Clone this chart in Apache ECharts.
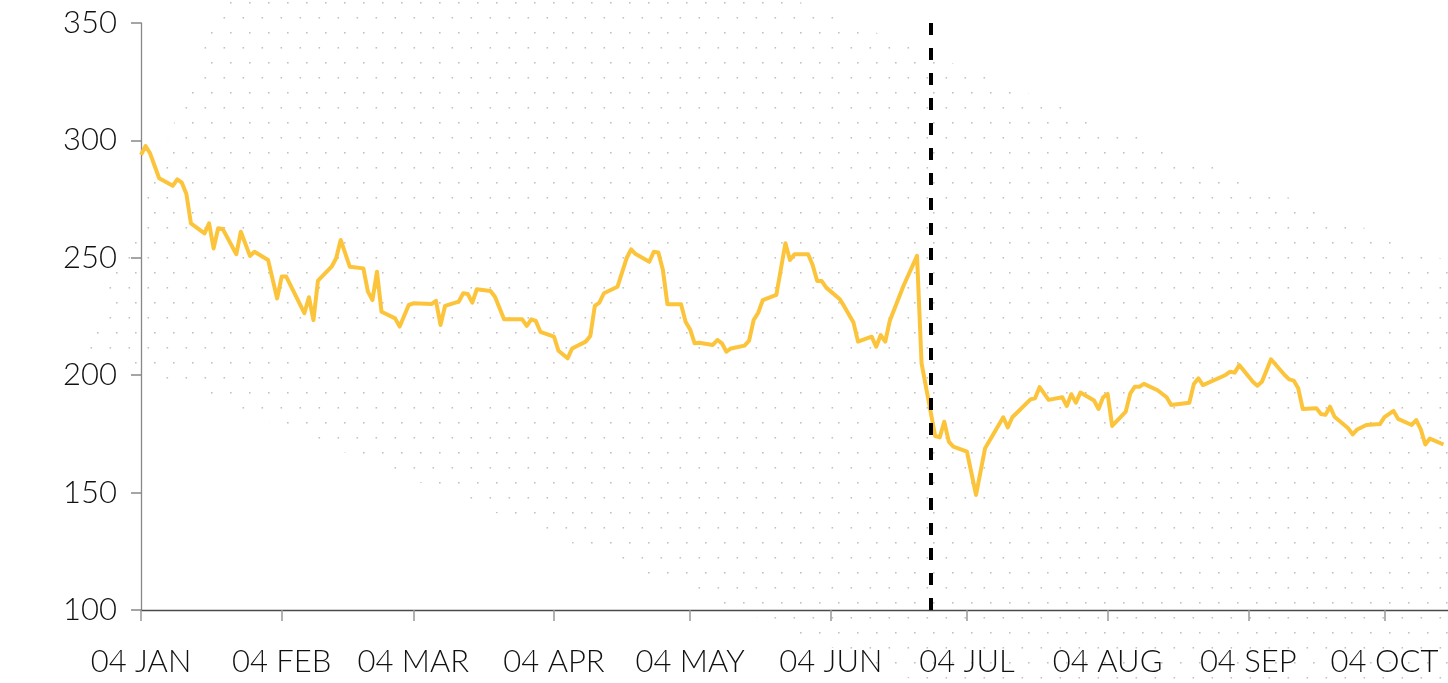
<!DOCTYPE html>
<html>
<head>
<meta charset="utf-8">
<script src="https://cdn.jsdelivr.net/npm/echarts@6.0.0/dist/echarts.min.js"></script>
<style>
html,body{margin:0;padding:0;background:#fff;}
#chart{width:1448px;height:683px;}
</style>
</head>
<body>
<div id="chart"></div>
<script>
// ---- data ----
const dates = [
 '2016-01-04','2016-01-05','2016-01-06','2016-01-08','2016-01-11','2016-01-12','2016-01-13','2016-01-14','2016-01-15',
 '2016-01-18','2016-01-19','2016-01-20','2016-01-21','2016-01-22','2016-01-25','2016-01-26','2016-01-28','2016-01-29',
 '2016-02-01','2016-02-03','2016-02-04','2016-02-05','2016-02-09','2016-02-10','2016-02-11','2016-02-12','2016-02-15',
 '2016-02-16','2016-02-17','2016-02-19','2016-02-22','2016-02-23','2016-02-24','2016-02-25','2016-02-26','2016-02-29',
 '2016-03-01','2016-03-03','2016-03-04','2016-03-08','2016-03-09','2016-03-10','2016-03-11','2016-03-14','2016-03-15',
 '2016-03-16','2016-03-17','2016-03-18','2016-03-21','2016-03-22','2016-03-24','2016-03-28','2016-03-29','2016-03-30','2016-03-31',
 '2016-04-01','2016-04-04','2016-04-05','2016-04-07','2016-04-08','2016-04-11','2016-04-12','2016-04-13','2016-04-14',
 '2016-04-15','2016-04-18','2016-04-20','2016-04-21','2016-04-22','2016-04-25','2016-04-26','2016-04-27','2016-04-28','2016-04-29',
 '2016-05-02','2016-05-03','2016-05-04','2016-05-05','2016-05-06','2016-05-09','2016-05-10','2016-05-11','2016-05-12',
 '2016-05-13','2016-05-16','2016-05-17','2016-05-18','2016-05-19','2016-05-20','2016-05-23','2016-05-25','2016-05-26',
 '2016-05-27','2016-05-30','2016-05-31',
 '2016-06-01','2016-06-02','2016-06-03','2016-06-06','2016-06-07','2016-06-09','2016-06-10','2016-06-13','2016-06-14',
 '2016-06-15','2016-06-16','2016-06-17','2016-06-20','2016-06-23','2016-06-24','2016-06-27','2016-06-28','2016-06-29','2016-06-30',
 '2016-07-01','2016-07-04','2016-07-06','2016-07-08','2016-07-12','2016-07-13','2016-07-14','2016-07-18','2016-07-19',
 '2016-07-20','2016-07-22','2016-07-25','2016-07-26','2016-07-27','2016-07-28','2016-07-29',
 '2016-08-01','2016-08-02','2016-08-03','2016-08-04','2016-08-05','2016-08-08','2016-08-09','2016-08-10','2016-08-11',
 '2016-08-12','2016-08-15','2016-08-17','2016-08-18','2016-08-22','2016-08-23','2016-08-24','2016-08-25','2016-08-30','2016-08-31',
 '2016-09-01','2016-09-02','2016-09-05','2016-09-06','2016-09-07','2016-09-09','2016-09-12','2016-09-13','2016-09-14',
 '2016-09-15','2016-09-16','2016-09-19','2016-09-20','2016-09-21','2016-09-22','2016-09-23','2016-09-26','2016-09-27',
 '2016-09-28','2016-09-30',
 '2016-10-03','2016-10-04','2016-10-06','2016-10-07','2016-10-10','2016-10-11','2016-10-12','2016-10-13','2016-10-14','2016-10-17'
];
const prices = [
 293.8,297.6,294.5,283.9,280.7,283.4,282.0,277.2,264.7,
 260.4,264.7,254.0,262.6,262.3,251.5,261.1,250.8,252.6,
 249.1,232.7,242.0,242.0,226.4,233.2,223.5,240.3,246.2,
 249.8,257.6,246.2,245.5,235.6,232.0,244.1,227.0,224.2,
 220.7,229.9,230.6,230.3,231.7,221.4,229.5,231.3,234.9,
 234.6,230.9,236.6,235.9,233.4,223.8,223.8,221.0,223.8,223.1,
 218.5,216.4,210.4,207.2,211.4,214.3,216.7,229.5,230.9,
 234.9,237.7,249.8,253.6,251.6,248.3,252.6,252.3,244.8,230.2,
 230.2,222.8,219.5,213.6,213.8,212.9,215.0,213.6,210.0,
 211.4,212.6,214.7,223.5,226.6,232.0,234.2,256.2,249.1,
 251.5,251.5,246.9,
 240.1,240.1,237.3,232.3,229.2,222.4,214.3,216.4,212.1,
 217.1,214.3,223.2,238.0,250.8,205.0,174.1,173.5,180.2,171.7,
 169.6,167.4,149.0,168.9,182.1,177.8,182.1,189.7,190.2,
 194.9,189.5,190.6,186.9,191.9,188.3,192.6,
 189.2,185.6,190.6,192.0,178.4,184.5,192.3,195.1,195.1,
 196.3,193.6,190.6,187.3,188.3,196.3,198.7,195.8,200.1,201.5,
 201.1,204.3,197.2,195.5,197.2,206.8,200.1,198.2,197.7,
 194.4,185.6,185.9,183.5,183.1,186.6,182.3,177.4,174.8,
 176.9,178.8,
 179.2,182.1,184.8,181.4,178.8,180.9,176.9,170.5,173.0,170.5
];
const tickDates = ['2016-01-04','2016-02-04','2016-03-04','2016-04-04','2016-05-04','2016-06-04','2016-07-04','2016-08-04','2016-09-04','2016-10-04'];
const tickLabels = ['04 JAN','04 FEB','04 MAR','04 APR','04 MAY','04 JUN','04 JUL','04 AUG','04 SEP','04 OCT'];
const yTicks = [100,150,200,250,300,350];
const eventDate = '2016-06-26';
const axisStart = '2016-01-04';
const axisEnd = '2016-10-18';

// ---- helpers: one category per calendar day ----
function pad(n){ return n < 10 ? '0' + n : '' + n; }
const days = [];
(function(){
  const [y0,m0,d0] = axisStart.split('-').map(Number);
  const cur = new Date(Date.UTC(y0, m0-1, d0));
  for (;;) {
    const s = cur.getUTCFullYear() + '-' + pad(cur.getUTCMonth()+1) + '-' + pad(cur.getUTCDate());
    days.push(s);
    if (s === axisEnd) break;
    cur.setUTCDate(cur.getUTCDate() + 1);
  }
})();
const priceByDate = {};
dates.forEach((d,i) => { priceByDate[d] = prices[i]; });
const seriesData = days.map(d => (d in priceByDate) ? priceByDate[d] : null);
const isTick = (idx, val) => tickDates.indexOf(val) >= 0;

// dotted background texture
const pc = document.createElement('canvas');
pc.width = 19; pc.height = 30;
const pctx = pc.getContext('2d');
pctx.fillStyle = 'rgba(0,0,0,0.24)';
pctx.fillRect(2,2,1.6,1.6);
pctx.fillRect(14.5,17,1.6,1.6);

const FONT = 'Lato, "Noto Sans", sans-serif';

const chart = echarts.init(document.getElementById('chart'), null, {renderer:'canvas'});
chart.setOption({
  animation: false,
  backgroundColor: '#ffffff',
  graphic: [{
    type: 'polygon',
    z: -10,
    silent: true,
    shape: { points: [[302,-197],[2100,522],[2100,1155],[84,348]] },
    style: { fill: { image: pc, repeat: 'repeat' } }
  }],
  grid: { left: 141, right: 0, top: 23, bottom: 73, containLabel: false },
  xAxis: {
    type: 'category',
    data: days,
    boundaryGap: false,
    splitLine: { show: false },
    axisLine: { show: true, lineStyle: { color: '#4a4a4a', width: 1.3 } },
    axisTick: { show: true, interval: isTick, length: 11, lineStyle: { color: '#999', width: 1.5 } },
    axisLabel: {
      interval: isTick,
      formatter: function(v){ const i = tickDates.indexOf(v); return i >= 0 ? tickLabels[i] : ''; },
      fontFamily: FONT, fontWeight: 300, fontSize: 31, color: '#111', margin: 36
    }
  },
  yAxis: {
    type: 'value',
    min: yTicks[0], max: yTicks[yTicks.length-1], interval: 50,
    splitLine: { show: false },
    axisLine: { show: true, lineStyle: { color: '#888', width: 1.3 } },
    axisTick: { show: true, length: 10, lineStyle: { color: '#888', width: 1.5 } },
    axisLabel: { fontFamily: FONT, fontWeight: 300, fontSize: 31, color: '#111', margin: 24 }
  },
  series: [{
    type: 'line',
    data: seriesData,
    connectNulls: true,
    showSymbol: false,
    symbol: 'none',
    smooth: false,
    lineStyle: { color: '#FBC43B', width: 4, join: 'round' },
    z: 3,
    markLine: {
      silent: true,
      symbol: ['none','none'],
      label: { show: false },
      lineStyle: { color: '#000', width: 4, type: [12,13] },
      data: [{ xAxis: eventDate }]
    }
  }]
});
</script>
</body>
</html>
